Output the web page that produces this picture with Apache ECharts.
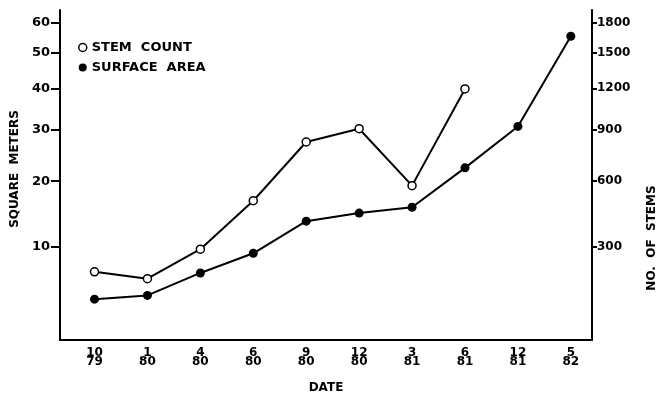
<!DOCTYPE html>
<html>
<head>
<meta charset="utf-8">
<script src="https://cdn.jsdelivr.net/npm/echarts@6/dist/echarts.min.js"></script>
<style>html,body{margin:0;padding:0;background:#fff;}#c{width:664px;height:400px;}</style>
</head>
<body>
<div id="c"></div>
<script>
// ---- data ----
const months = ['10', '1', '4', '6', '9', '12', '3', '6', '12', '5'];
const years  = ['79', '80', '80', '80', '80', '80', '81', '81', '81', '82'];
const surfaceArea = [3.9, 4.3, 6.8, 9.2, 13.6, 14.8, 15.7, 22.4, 30.8, 55.3]; // square meters
const stemCount = [208, 184, 292, 502, 824, 909, 577, 1195];                  // no. of stems
const leftTicks = [10, 20, 30, 40, 50, 60];
const rightTicks = [300, 600, 900, 1200, 1500, 1800];
const STEMS_PER_M2 = 30; // right axis = 30 x left axis

// ---- axis transform (the original scale is compressed: log10(v + 20)) ----
const OFFSET = 20;
const t = v => Math.log10(v + OFFSET);
const tInv = y => Math.pow(10, y) - OFFSET;
const yMin = t(0), yMax = t(64.45);

const font = 'DejaVu Sans';
const chart = echarts.init(document.getElementById('c'), null, {renderer: 'canvas'});

const yCommon = {
  type: 'value', min: yMin, max: yMax, splitLine: {show: false},
  axisLine: {show: true, onZero: false, lineStyle: {color: '#000', width: 2}},
};

chart.setOption({
  animation: false,
  backgroundColor: '#fff',
  grid: {left: 60, right: 72, top: 10, bottom: 60, containLabel: false, outerBoundsMode: 'none'},
  legend: {
    orient: 'vertical', left: 78, top: 40, padding: 0, itemWidth: 8, itemHeight: 8, itemGap: 5,
    textStyle: {fontFamily: font, fontSize: 13, fontWeight: 'bold', color: '#000', lineHeight: 15},
    data: [
      {name: 'STEM  COUNT', icon: 'circle', itemStyle: {color: '#fff', borderColor: '#000', borderWidth: 1.5}},
      {name: 'SURFACE  AREA', icon: 'circle', itemStyle: {color: '#000', borderColor: '#000', borderWidth: 0}}
    ]
  },
  xAxis: {
    type: 'value', min: -0.652, max: 9.40,
    splitLine: {show: false},
    axisLine: {show: true, onZero: false, lineStyle: {color: '#000', width: 2}},
    axisTick: {show: false},
    axisLabel: {
      customValues: months.map((m, i) => i),
      formatter: v => months[Math.round(v)] + '\n' + years[Math.round(v)],
      fontFamily: font, fontSize: 12, fontWeight: 'bold', color: '#000', lineHeight: 9, margin: 8
    }
  },
  yAxis: [
    Object.assign({}, yCommon, {
      position: 'left',
      axisTick: {show: true, customValues: leftTicks.map(t), length: 9, lineStyle: {color: '#000', width: 2}},
      axisLabel: {customValues: leftTicks.map(t), formatter: v => String(Math.round(tInv(v))),
        fontFamily: font, fontSize: 13, fontWeight: 'bold', color: '#000', margin: 10}
    }),
    Object.assign({}, yCommon, {
      position: 'right',
      axisTick: {show: true, customValues: rightTicks.map(s => t(s / STEMS_PER_M2)), length: 5, lineStyle: {color: '#000', width: 2}},
      axisLabel: {customValues: rightTicks.map(s => t(s / STEMS_PER_M2)),
        formatter: v => String(Math.round(tInv(v) * STEMS_PER_M2 / 100) * 100),
        fontFamily: font, fontSize: 12, fontWeight: 'bold', color: '#000', margin: 5}
    })
  ],
  graphic: [
    {type: 'text', x: 15, y: 169, rotation: Math.PI / 2,
      style: {text: 'SQUARE  METERS', font: 'bold 12px "DejaVu Sans"', fill: '#000', textAlign: 'center', textVerticalAlign: 'middle'}},
    {type: 'text', x: 652, y: 238, rotation: Math.PI / 2,
      style: {text: 'NO.  OF  STEMS', font: 'bold 12px "DejaVu Sans"', fill: '#000', textAlign: 'center', textVerticalAlign: 'middle'}},
    {type: 'text', x: 326, y: 388,
      style: {text: 'DATE', font: 'bold 12px "DejaVu Sans"', fill: '#000', textAlign: 'center', textVerticalAlign: 'middle'}}
  ],
  series: [
    {
      name: 'STEM  COUNT', type: 'line', yAxisIndex: 1,
      data: stemCount.map((s, i) => [i, t(s / STEMS_PER_M2)]),
      symbol: 'circle', symbolSize: 8,
      lineStyle: {color: '#000', width: 2},
      itemStyle: {color: '#fff', borderColor: '#000', borderWidth: 1.5},
      z: 3
    },
    {
      name: 'SURFACE  AREA', type: 'line', yAxisIndex: 0,
      data: surfaceArea.map((v, i) => [i, t(v)]),
      symbol: 'circle', symbolSize: 9,
      lineStyle: {color: '#000', width: 2},
      itemStyle: {color: '#000', borderColor: '#000', borderWidth: 0},
      z: 2
    }
  ]
});
</script>
</body>
</html>
